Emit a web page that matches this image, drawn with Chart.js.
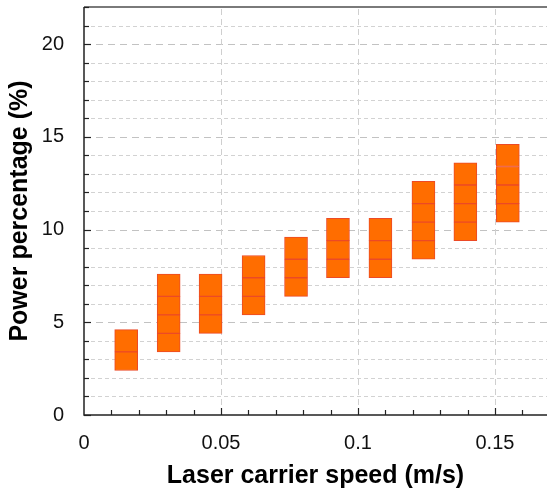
<!DOCTYPE html>
<html>
<head>
<meta charset="utf-8">
<script src="https://cdn.jsdelivr.net/npm/chart.js@4/dist/chart.umd.min.js"></script>
<style>
  html, body { margin: 0; padding: 0; background: #ffffff; }
  #wrap { width: 547px; height: 496px; position: relative; }
</style>
</head>
<body>
<div id="wrap"><canvas id="c" width="547" height="496"></canvas></div>
<script>
// ---- data ----
const speeds = [0.0154, 0.0309, 0.0462, 0.0619, 0.0774, 0.0927, 0.1082, 0.1239, 0.1392, 0.1547];
// segment edges of each box (bottom ... top), power percentage (%)
const box1  = [2.4, 3.4, 4.6];
const box2  = [3.4, 4.4, 5.4, 6.4, 7.6];
const box3  = [4.4, 5.4, 6.4, 7.6];
const box4  = [5.4, 6.4, 7.4, 8.6];
const box5  = [6.4, 7.4, 8.4, 9.6];
const box6  = [7.4, 8.4, 9.4, 10.6];
const box7  = [7.4, 8.4, 9.4, 10.6];
const box8  = [8.4, 9.4, 10.4, 11.4, 12.6];
const box9  = [9.4, 10.4, 11.4, 12.4, 13.6];
const box10 = [10.4, 11.4, 12.4, 13.4, 14.6];
const boxes = [box1, box2, box3, box4, box5, box6, box7, box8, box9, box10];

const xTicks = [0, 0.05, 0.1, 0.15];
const xTickLabels = ['0', '0.05', '0.1', '0.15'];
const yTicks = [0, 5, 10, 15, 20];
const yTickLabels = ['0', '5', '10', '15', '20'];
const xTitle = 'Laser carrier speed (m/s)';
const yTitle = 'Power percentage (%)';

// ---- build segment datasets ----
const maxSeg = Math.max(...boxes.map(b => b.length - 1));
const datasets = [];
for (let k = 0; k < maxSeg; k++) {
  datasets.push({
    label: 'segment ' + (k + 1),
    data: speeds.map((s, i) => (boxes[i][k + 1] !== undefined)
      ? { x: s, y: [boxes[i][k], boxes[i][k + 1]] } : null).filter(d => d),
    backgroundColor: '#FF6D00',
    borderColor: '#EC4A26',
    borderWidth: 1,
    borderSkipped: false,
    barThickness: 23,
    grouped: false
  });
}

const FONT = "'Liberation Sans', Arial, Helvetica, sans-serif";

const decor = {
  id: 'decor',
  beforeDatasetsDraw(chart) {
    const { ctx, chartArea: a, scales: { x, y } } = chart;
    ctx.save();
    ctx.lineWidth = 1;
    // horizontal grid lines
    for (let v = 1; v < y.max; v++) {
      const py = Math.round(y.getPixelForValue(v)) + 0.5;
      const major = v % 5 === 0;
      ctx.strokeStyle = major ? '#c2c2c2' : '#d2d2d2';
      ctx.setLineDash(major ? [7, 5] : [4, 3]);
      ctx.beginPath(); ctx.moveTo(a.left, py); ctx.lineTo(a.right, py); ctx.stroke();
    }
    // vertical grid lines at labelled ticks
    ctx.strokeStyle = '#cfcfcf';
    ctx.setLineDash([6, 4]);
    xTicks.forEach(v => {
      if (v === 0) return;
      const px = Math.round(x.getPixelForValue(v)) + 0.5;
      ctx.beginPath(); ctx.moveTo(px, a.bottom); ctx.lineTo(px, a.top); ctx.stroke();
    });
    ctx.restore();
  },
  afterDatasetsDraw(chart) {
    const { ctx, chartArea: a, scales: { x, y } } = chart;
    ctx.save();
    ctx.setLineDash([]);
    // top frame line
    ctx.strokeStyle = '#7a7a7a';
    ctx.lineWidth = 2;
    ctx.beginPath(); ctx.moveTo(a.left, a.top); ctx.lineTo(a.right, a.top); ctx.stroke();
    // axes
    ctx.strokeStyle = '#222';
    ctx.lineWidth = 1.5;
    ctx.beginPath();
    ctx.moveTo(a.left, a.top); ctx.lineTo(a.left, a.bottom); ctx.lineTo(a.right, a.bottom);
    ctx.stroke();
    // inward ticks
    ctx.lineWidth = 1.2;
    for (let v = 0; v <= y.max; v++) {
      const py = Math.round(y.getPixelForValue(v)) + 0.5;
      const len = v % 5 === 0 ? 7 : 5;
      ctx.beginPath(); ctx.moveTo(a.left, py); ctx.lineTo(a.left + len, py); ctx.stroke();
    }
    for (let i = 1; i * 0.01 <= x.max; i++) {
      const px = Math.round(x.getPixelForValue(i * 0.01)) + 0.5;
      const len = i % 5 === 0 ? 7 : 5;
      ctx.beginPath(); ctx.moveTo(px, a.bottom); ctx.lineTo(px, a.bottom - len); ctx.stroke();
    }
    ctx.restore();
  }
};

new Chart(document.getElementById('c'), {
  type: 'bar',
  data: { datasets },
  options: {
    responsive: false,
    animation: false,
    layout: { padding: { top: 7, right: 0, left: 0, bottom: 0 } },
    plugins: { legend: { display: false }, tooltip: { enabled: false } },
    scales: {
      x: {
        type: 'linear',
        offset: false,
        min: 0,
        max: 0.169,
        grid: { display: false, drawTicks: false },
        border: { display: false },
        afterBuildTicks: s => { s.ticks = xTicks.map(v => ({ value: v })); },
        afterFit: s => { s.height = 81; s.paddingLeft = 0; s.paddingRight = 0; },
        ticks: {
          color: '#111',
          font: { family: FONT, size: 20 },
          padding: 16,
          maxRotation: 0,
          autoSkip: false,
          callback: v => xTickLabels[xTicks.indexOf(v)]
        },
        title: {
          display: true,
          text: xTitle,
          color: '#000',
          font: { family: FONT, size: 25, weight: 'bold' },
          padding: { top: 0, bottom: 5 }
        }
      },
      y: {
        min: 0,
        max: 22,
        grid: { display: false, drawTicks: false },
        border: { display: false },
        afterBuildTicks: s => { s.ticks = yTicks.map(v => ({ value: v })); },
        afterFit: s => { s.width = 84; s.paddingTop = 0; s.paddingBottom = 0; },
        ticks: {
          color: '#111',
          font: { family: FONT, size: 20 },
          padding: 20,
          autoSkip: false,
          callback: v => yTickLabels[yTicks.indexOf(v)]
        },
        title: {
          display: true,
          text: yTitle,
          color: '#000',
          font: { family: FONT, size: 25, weight: 'bold' },
          padding: { top: 5, bottom: 0 }
        }
      }
    }
  },
  plugins: [decor]
});
</script>
</body>
</html>
